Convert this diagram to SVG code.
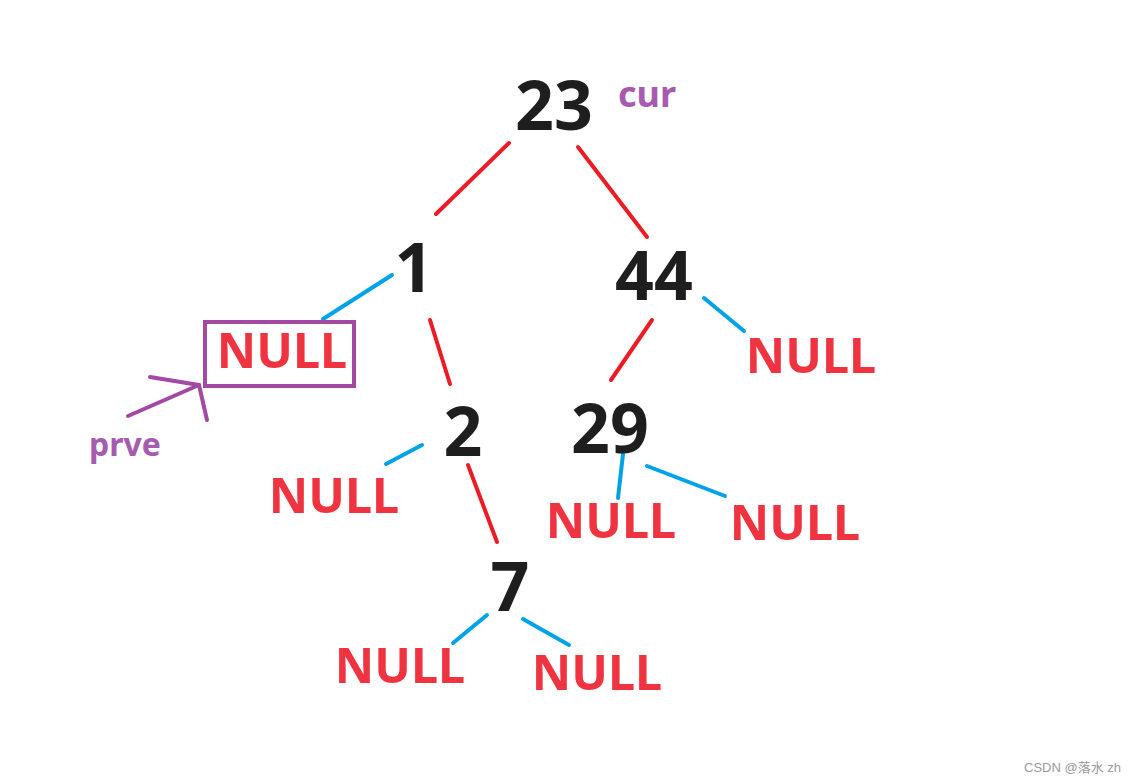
<svg xmlns="http://www.w3.org/2000/svg" width="1138" height="784" viewBox="0 0 1138 784">
<style>
.num{font-family:"Noto Sans","Open Sans","Liberation Sans",sans-serif;font-weight:bold;font-size:68px;fill:#1e1e1e;text-anchor:middle}
.nul{font-family:"Noto Sans","Open Sans","Liberation Sans",sans-serif;font-weight:bold;font-size:48.5px;fill:#ef3340;text-anchor:middle}
.lbl{font-family:"Noto Sans","Open Sans","Liberation Sans",sans-serif;font-weight:bold;fill:#a65bb0}
.r{stroke:#ed1c24;stroke-width:4;stroke-linecap:round;fill:none}
.b{stroke:#00a2e8;stroke-width:4;stroke-linecap:round;fill:none}
.p{stroke:#a349a4;stroke-width:4;stroke-linecap:round;fill:none}
</style>
<rect width="1138" height="784" fill="#ffffff"/>
<g id="connectors">
<line class="r" x1="509" y1="143" x2="436" y2="214"/>
<line class="r" x1="578" y1="147" x2="647" y2="237"/>
<line class="b" x1="392" y1="275" x2="323" y2="319"/>
<line class="r" x1="430" y1="320" x2="450" y2="384"/>
<line class="r" x1="652" y1="320" x2="611" y2="380"/>
<line class="b" x1="704" y1="298" x2="744" y2="331"/>
<line class="b" x1="422" y1="445" x2="386" y2="464"/>
<line class="r" x1="468" y1="465" x2="497" y2="542"/>
<line class="b" x1="623" y1="454" x2="618" y2="498"/>
<line class="b" x1="647" y1="466" x2="725" y2="496"/>
<line class="b" x1="487" y1="615" x2="453" y2="643"/>
<line class="b" x1="523" y1="619" x2="569" y2="645"/>
</g>
<g id="n23"><text class="num" x="554" y="130">23</text></g>
<g id="cur"><text class="lbl" x="618" y="107" font-size="36">cur</text></g>
<g id="n1"><text class="num" x="414" y="292">1</text></g>
<g id="n44"><text class="num" x="654" y="300">44</text></g>
<g id="nullBox">
<rect x="205" y="322" width="149" height="64" fill="none" stroke="#a349a4" stroke-width="4"/>
<text class="nul" x="282" y="368">NULL</text>
</g>
<g id="prveArrow">
<line class="p" x1="128" y1="416" x2="199" y2="385"/>
<line class="p" x1="150" y1="377" x2="199" y2="385"/>
<line class="p" x1="199" y1="385" x2="207" y2="420"/>
</g>
<g id="prve"><text class="lbl" x="89" y="456" font-size="32">prve</text></g>
<g id="null44"><text class="nul" x="811" y="373">NULL</text></g>
<g id="n2"><text class="num" x="463" y="456">2</text></g>
<g id="n29"><text class="num" x="610" y="453">29</text></g>
<g id="null2"><text class="nul" x="334" y="513">NULL</text></g>
<g id="null29l"><text class="nul" x="611" y="538">NULL</text></g>
<g id="null29r"><text class="nul" x="795" y="540">NULL</text></g>
<g id="n7"><text class="num" x="510" y="611">7</text></g>
<g id="null7l"><text class="nul" x="400" y="683">NULL</text></g>
<g id="null7r"><text class="nul" x="597" y="690">NULL</text></g>
<g id="watermark"><text x="1121" y="772" font-family="'Liberation Sans','Noto Sans CJK SC',sans-serif" font-size="13" fill="#9a9a9a" text-anchor="end">CSDN @落水 zh</text></g>
</svg>
